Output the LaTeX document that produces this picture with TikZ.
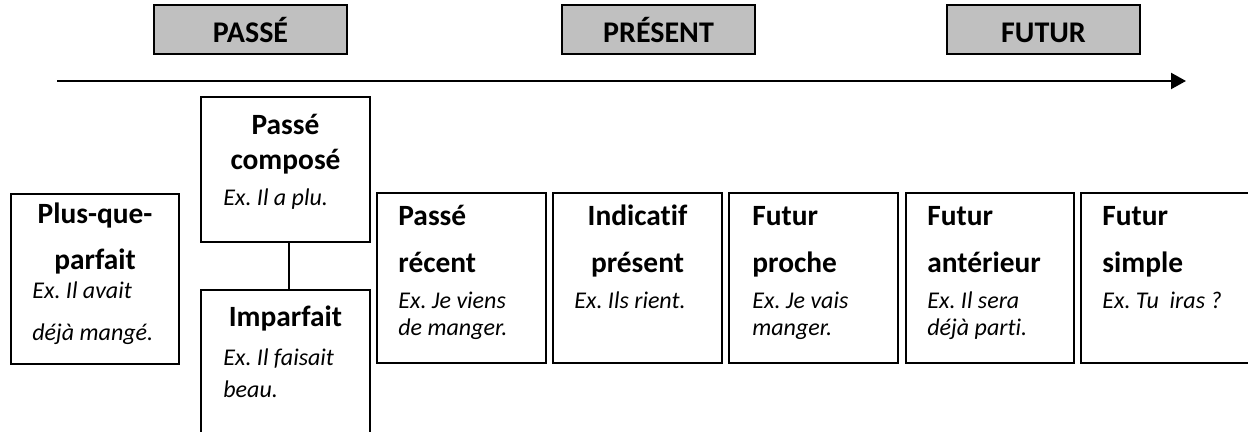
\documentclass[tikz,border=0pt]{standalone}
\usepackage{fontspec}
\setmainfont{Carlito}[Ligatures=NoCommon]
\frenchspacing
\usetikzlibrary{arrows.meta,calc}
\definecolor{tgray}{HTML}{C0C0C0}
\tikzset{
  box/.style={draw=black, line width=1pt, inner sep=0pt, rectangle},
  topbox/.style={box, fill=tgray},
  tl/.style={inner sep=0pt, font=\fontsize{15pt}{18pt}\selectfont\bfseries},
  hd/.style={inner sep=0pt, font=\fontsize{14.7pt}{18pt}\selectfont\bfseries},
  ex/.style={inner sep=0pt, font=\fontsize{12pt}{14pt}\selectfont\itshape},
  arrowline/.style={line width=1.1pt, -{Triangle[length=7.5pt,width=8pt]}},
  conn/.style={line width=0.9pt}
}
\begin{document}
\begin{tikzpicture}[x=0.5pt,y=-0.5pt]
\useasboundingbox (0,0) rectangle (1248,432);
% top period boxes
\node[topbox, minimum width=96.5pt, minimum height=24.5pt] (tpasse) at (250.5,29.5) {};
\node[topbox, minimum width=96.5pt, minimum height=24.5pt] (tpresent) at (658.5,29.5) {};
\node[topbox, minimum width=96.5pt, minimum height=24.5pt] (tfutur) at (1043.5,29.5) {};
\node[tl, anchor=base] (lpasse) at (250.5,43) {PASSÉ};
\node[tl, anchor=base] (lpresent) at (658.5,43) {PRÉSENT};
\node[tl, anchor=base] (lfutur) at (1043.5,43) {FUTUR};
% time arrow
\coordinate (as) at (57,81);
\coordinate (ae) at (1186,81);
\draw[arrowline] (as) -- (ae);
% tense boxes
\node[box, minimum width=84pt, minimum height=85pt] (pqp) at (95,279) {};
\node[box, minimum width=84.5pt, minimum height=72.5pt] (pc) at (285.5,169.5) {};
\node[box, minimum width=84.5pt, minimum height=73pt] (imp) at (285.5,363) {};
\node[box, minimum width=84.5pt, minimum height=85pt] (pr) at (461.5,278) {};
\node[box, minimum width=84.5pt, minimum height=85pt] (ip) at (637.5,278) {};
\node[box, minimum width=84.5pt, minimum height=85pt] (fp) at (813.5,278) {};
\node[box, minimum width=84pt, minimum height=85pt] (fa) at (990,278) {};
\node[box, minimum width=86pt, minimum height=85pt] (fs) at (1167,278) {};
% connector
\draw[conn] ($(pc.south)+(3.5,0)$) -- ($(imp.north)+(3.5,0)$);
% Plus-que-parfait
\node[hd, anchor=base] (pqp1) at (95,224) {Plus-que-};
\node[hd, anchor=base] (pqp2) at (95,270) {parfait};
\node[ex, anchor=base west] (pqp3) at (32,299) {Ex. Il avait};
\node[ex, anchor=base west] (pqp4) at (32,341) {déjà mangé.};
% Passé composé
\node[hd, anchor=base] (pc1) at (285.5,135) {Passé};
\node[hd, anchor=base] (pc2) at (285.5,170) {composé};
\node[ex, anchor=base west] (pc3) at (223,206) {Ex. Il a plu.};
% Imparfait
\node[hd, anchor=base] (imp1) at (285.5,327) {Imparfait};
\node[ex, anchor=base west] (imp2) at (223,366) {Ex. Il faisait};
\node[ex, anchor=base west] (imp3) at (223,398) {beau.};
% Passé récent
\node[hd, anchor=base west] (pr1) at (398,226) {Passé};
\node[hd, anchor=base west] (pr2) at (398,273) {récent};
\node[ex, anchor=base west] (pr3) at (398,309) {Ex. Je viens};
\node[ex, anchor=base west] (pr4) at (398,336) {de manger.};
% Indicatif présent
\node[hd, anchor=base] (ip1) at (637.5,226) {Indicatif};
\node[hd, anchor=base] (ip2) at (637.5,273) {présent};
\node[ex, anchor=base west] (ip3) at (574,309) {Ex. Ils rient.};
% Futur proche
\node[hd, anchor=base west] (fp1) at (752,226) {Futur};
\node[hd, anchor=base west] (fp2) at (752,273) {proche};
\node[ex, anchor=base west] (fp3) at (752,309) {Ex. Je vais};
\node[ex, anchor=base west] (fp4) at (752,336) {manger.};
% Futur antérieur
\node[hd, anchor=base west] (fa1) at (927,226) {Futur};
\node[hd, anchor=base west] (fa2) at (927,273) {antérieur};
\node[ex, anchor=base west] (fa3) at (927,309) {Ex. Il sera};
\node[ex, anchor=base west] (fa4) at (927,336) {déjà parti.};
% Futur simple
\node[hd, anchor=base west] (fs1) at (1102,226) {Futur};
\node[hd, anchor=base west] (fs2) at (1102,273) {simple};
\node[ex, anchor=base west] (fs3) at (1102,309) {Ex. Tu\ \ iras ?};
\end{tikzpicture}
\end{document}
